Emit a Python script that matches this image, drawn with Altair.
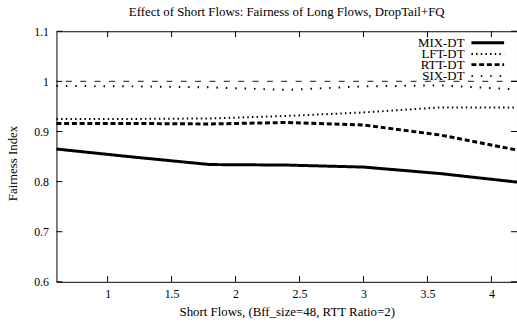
import altair as alt
import pandas as pd

# Number of short flows (x) and fairness index of each scheme
X = [0.6, 1.2, 1.8, 2.4, 3.0, 3.6, 4.2]
MIX = [0.865, 0.849, 0.834, 0.833, 0.829, 0.816, 0.799]
LFT = [0.925, 0.925, 0.926, 0.931, 0.938, 0.948, 0.948]
RTT = [0.916, 0.916, 0.915, 0.918, 0.913, 0.893, 0.863]
SIX = [0.991, 0.990, 0.988, 0.983, 0.990, 0.992, 0.984]
SERIES = ["MIX-DT", "LFT-DT", "RTT-DT", "SIX-DT"]
REF = [1.0]

X_TICKS = [1, 1.5, 2, 2.5, 3, 3.5, 4]
Y_TICKS = [0.6, 0.7, 0.8, 0.9, 1.0, 1.1]

TITLE = "Effect of Short Flows: Fairness of Long Flows, DropTail+FQ"
X_TITLE = "Short Flows, (Bff_size=48, RTT Ratio=2)"
Y_TITLE = "Fairness Index"

W, H = 465, 253
FONT = "Liberation Serif"

values = {"MIX-DT": MIX, "LFT-DT": LFT, "RTT-DT": RTT, "SIX-DT": SIX}
styles = {
    "MIX-DT": dict(strokeWidth=3, strokeDash=[1, 0]),
    "LFT-DT": dict(strokeWidth=2, strokeDash=[1.5, 3.2]),
    "RTT-DT": dict(strokeWidth=3, strokeDash=[5, 2.8]),
    "SIX-DT": dict(strokeWidth=2, strokeDash=[1.5, 8]),
}
legend_y = [11.7, 23, 33.7, 45.3]

xs = alt.Scale(domain=[0.6, 4.2], nice=False, zero=False)
ys = alt.Scale(domain=[0.6, 1.1], nice=False, zero=False)

x_axis = alt.Axis(values=X_TICKS, format="~g", ticks=False, domain=False, grid=False,
                  labelPadding=7, labelFont=FONT, labelFontSize=12, labelColor="black",
                  title=X_TITLE, titleFont=FONT, titleFontSize=13, titleFontWeight="normal",
                  titleColor="black", titleY=30, titleBaseline="middle")
y_axis = alt.Axis(values=Y_TICKS, format="~g", ticks=False, domain=False, grid=False,
                  labelPadding=8, labelFont=FONT, labelFontSize=12, labelColor="black",
                  title=Y_TITLE, titleFont=FONT, titleFontSize=13, titleFontWeight="normal",
                  titleColor="black", titleX=-44, titleY=133, titleBaseline="middle",
                  titleAngle=270)

layers = []

# reference line at fairness 1
ref_df = pd.DataFrame({"y": REF})
layers.append(
    alt.Chart(ref_df).mark_rule(color="#444", strokeWidth=1.2, strokeDash=[6, 8.5])
    .encode(y=alt.Y("y:Q", scale=ys, axis=y_axis))
)

for name in SERIES:
    df = pd.DataFrame({"x": X, "y": values[name]})
    layers.append(
        alt.Chart(df).mark_line(color="black", **styles[name])
        .encode(x=alt.X("x:Q", scale=xs, axis=x_axis),
                y=alt.Y("y:Q", scale=ys, axis=y_axis))
    )

# inward tick marks on all four sides
xt = pd.DataFrame({"x": X_TICKS})
yt = pd.DataFrame({"y": Y_TICKS})
tick_style = dict(color="black", strokeWidth=1)
layers += [
    alt.Chart(xt).mark_rule(**tick_style).encode(
        x=alt.X("x:Q", scale=xs, axis=x_axis), y=alt.value(H), y2=alt.value(H - 6)),
    alt.Chart(xt).mark_rule(**tick_style).encode(
        x=alt.X("x:Q", scale=xs, axis=x_axis), y=alt.value(0), y2=alt.value(6)),
    alt.Chart(yt).mark_rule(**tick_style).encode(
        y=alt.Y("y:Q", scale=ys, axis=y_axis), x=alt.value(0), x2=alt.value(6)),
    alt.Chart(yt).mark_rule(**tick_style).encode(
        y=alt.Y("y:Q", scale=ys, axis=y_axis), x=alt.value(W), x2=alt.value(W - 6)),
]

# key in the top-right corner: label then line sample
for name, ly in zip(SERIES, legend_y):
    lab = pd.DataFrame({"name": [name]})
    layers.append(
        alt.Chart(lab).mark_text(align="right", baseline="middle", font=FONT,
                                 fontSize=13, color="black")
        .encode(text="name:N", x=alt.value(412), y=alt.value(ly))
    )
    layers.append(
        alt.Chart(lab).mark_rule(color="black", **styles[name])
        .encode(x=alt.value(419), x2=alt.value(452), y=alt.value(ly))
    )

chart = (
    alt.layer(*layers)
    .properties(
        width=W, height=H,
        title=alt.TitleParams(TITLE, font=FONT, fontSize=13, fontWeight="normal",
                              color="black", anchor="middle", baseline="middle",
                              offset=0),
        autosize=alt.AutoSizeParams(type="none"),
        padding={"left": 57, "top": 30, "right": 0, "bottom": 39},
        background="white",
    )
    .configure_view(stroke="black", strokeWidth=1)
)

chart.save("out.html", embed_options={"renderer": "svg", "actions": False})
